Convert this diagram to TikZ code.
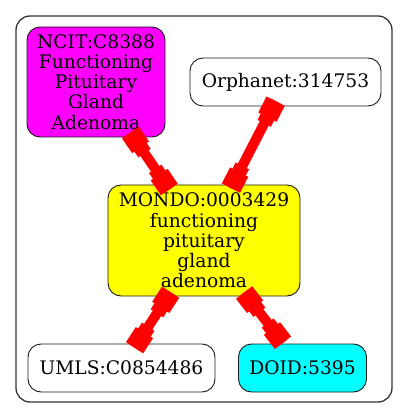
\documentclass[tikz,border=0pt]{standalone}
\usepackage{fontspec}
\setmainfont{DejaVu Serif}
\usetikzlibrary{calc}
\definecolor{gvmagenta}{RGB}{255,0,255}
\definecolor{gvyellow}{RGB}{255,255,0}
\definecolor{gvcyan}{RGB}{0,255,255}
\definecolor{gvred}{RGB}{255,0,0}
% #1 from node, #2 to node, #3 name, #4 overshoot at start, #5 overshoot at end
\newcommand{\teeedge}[5]{%
  \path (#1) -- coordinate[pos=0] (#3b) coordinate[pos=1] (#3c) (#2);
  \coordinate (#3s) at ($(#3b)!-#4pt!(#3c)$);
  \coordinate (#3e) at ($(#3c)!-#5pt!(#3b)$);
  \draw[teeline, line width=10pt] (#3s) -- (#3e);
  \draw[teeline, line width=20.5pt] (#3s) -- ($(#3s)!18pt!(#3e)$);
  \draw[teeline, line width=15pt] ($(#3s)!17pt!(#3e)$) -- ($(#3s)!25pt!(#3e)$);
  \draw[teeline, line width=20.5pt] (#3e) -- ($(#3e)!18pt!(#3s)$);
  \draw[teeline, line width=15pt] ($(#3e)!17pt!(#3s)$) -- ($(#3e)!25pt!(#3s)$);
}
\begin{document}
\begin{tikzpicture}[x=1pt,y=-1pt,
  box/.style={draw=black!90, rounded corners=13pt, line width=0.9pt, inner sep=0pt, align=center,
    font=\fontsize{18.67}{20.2}\selectfont},
  teeline/.style={draw=gvred, line cap=butt}]
\useasboundingbox (0,0) rectangle (408,419);
\draw[black!80, line width=1.3pt, rounded corners=14pt] (16,16) rectangle (392,402);
\node[box, fill=gvmagenta, minimum width=138pt, minimum height=110pt] (ncit) at (96,82) {NCIT:C8388\\Functioning\\Pituitary\\Gland\\Adenoma};
\node[box, fill=white, minimum width=191pt, minimum height=48pt] (orpha) at (285.5,82) {Orphanet:314753};
\node[box, fill=gvyellow, minimum width=192pt, minimum height=111pt] (mondo) at (204,240.5) {MONDO:0003429\\functioning\\pituitary\\gland\\adenoma};
\node[box, fill=white, minimum width=187pt, minimum height=48pt] (umls) at (121.5,368) {UMLS:C0854486};
\node[box, fill=gvcyan, minimum width=128pt, minimum height=48pt] (doid) at (302.5,368) {DOID:5395};
\teeedge{ncit}{mondo}{ea}{6}{6}
\teeedge{orpha}{mondo}{eb}{6}{4}
\teeedge{mondo}{umls}{ec}{5}{5}
\teeedge{mondo}{doid}{ed}{5}{-1}
\end{tikzpicture}
\end{document}
